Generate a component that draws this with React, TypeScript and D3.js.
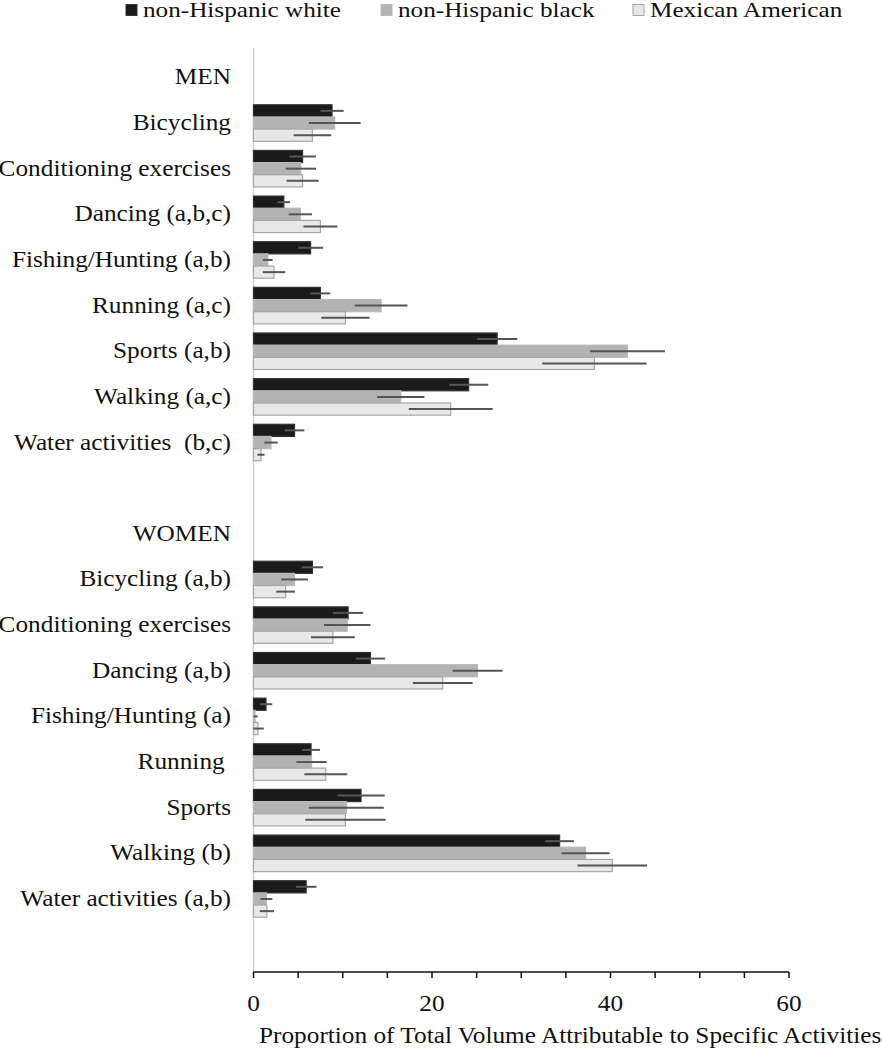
import React from 'react';
import * as d3 from 'd3';

// categories (labels as printed, including the significance letters)
const menCategories = [
  'Bicycling',
  'Conditioning exercises',
  'Dancing (a,b,c)',
  'Fishing/Hunting (a,b)',
  'Running (a,c)',
  'Sports (a,b)',
  'Walking (a,c)',
  'Water activities  (b,c)',
];
const womenCategories = [
  'Bicycling (a,b)',
  'Conditioning exercises',
  'Dancing (a,b)',
  'Fishing/Hunting (a)',
  'Running ',
  'Sports',
  'Walking (b)',
  'Water activities (a,b)',
];

const seriesNames = ['non-Hispanic white', 'non-Hispanic black', 'Mexican American'];

// proportion values, men
const menWhite = [8.8, 5.5, 3.4, 6.4, 7.5, 27.3, 24.1, 4.6];
const menBlack = [9.1, 5.3, 5.25, 1.6, 14.3, 41.9, 16.5, 1.96];
const menMexican = [6.6, 5.5, 7.5, 2.3, 10.3, 38.2, 22.1, 0.84];
// error half-widths, men
const menWhiteErr = [1.3, 1.5, 0.7, 1.4, 1.1, 2.25, 2.2, 1.1];
const menBlackErr = [2.9, 1.7, 1.3, 0.55, 2.95, 4.2, 2.65, 0.75];
const menMexicanErr = [2.1, 1.8, 1.9, 1.25, 2.7, 5.85, 4.7, 0.4];

// proportion values, women
const womenWhite = [6.6, 10.6, 13.1, 1.4, 6.45, 12.05, 34.3, 5.9];
const womenBlack = [4.6, 10.5, 25.1, 0.17, 6.5, 10.4, 37.2, 1.44];
const womenMexican = [3.6, 8.9, 21.2, 0.5, 8.1, 10.3, 40.2, 1.5];
// error half-widths, women
const womenWhiteErr = [1.2, 1.7, 1.65, 0.7, 1.0, 2.65, 1.6, 1.15];
const womenBlackErr = [1.5, 2.6, 2.8, 0.3, 1.7, 4.2, 2.7, 0.67];
const womenMexicanErr = [1.05, 2.45, 3.35, 0.65, 2.4, 4.5, 3.9, 0.8];

const xTicks = [0, 20, 40, 60];

const W = 882;
const H = 1050;
const FONT = '"Liberation Serif", "Times New Roman", serif';

const fills = ['#1a1a1a', '#b3b3b3', '#e8e8e8'];
const strokes = ['#333333', '#b8b8b8', '#a6a6a6'];

type Row = { key: string; label: string; header?: boolean; values?: number[]; errs?: number[] };

const rows: Row[] = [
  { key: 'men', label: 'MEN', header: true },
  ...menCategories.map((c, i) => ({
    key: 'm' + i,
    label: c,
    values: [menWhite[i], menBlack[i], menMexican[i]],
    errs: [menWhiteErr[i], menBlackErr[i], menMexicanErr[i]],
  })),
  { key: 'gap1', label: '' },
  { key: 'women', label: 'WOMEN', header: true },
  ...womenCategories.map((c, i) => ({
    key: 'w' + i,
    label: c,
    values: [womenWhite[i], womenBlack[i], womenMexican[i]],
    errs: [womenWhiteErr[i], womenBlackErr[i], womenMexicanErr[i]],
  })),
  { key: 'gap2', label: '' },
];

// the source figure is stretched horizontally, so text gets a little x-scale
const Label: React.FC<{
  x: number;
  y: number;
  anchor?: string;
  size?: number;
  sx?: number;
  children: React.ReactNode;
}> = ({ x, y, anchor = 'end', size = 23, sx = 1.1, children }) => (
  <text
    transform={`translate(${x},${y}) scale(${sx},1)`}
    textAnchor={anchor}
    fontFamily={FONT}
    fontSize={size}
    fill="#111"
    style={{ whiteSpace: 'pre' }}
  >
    {children}
  </text>
);

export default function App() {
  const x = d3.scaleLinear().domain([0, 60]).range([253.5, 789]);
  const y = d3
    .scaleBand<string>()
    .domain(rows.map(r => r.key))
    .range([50, 972])
    .paddingInner(0.2)
    .paddingOuter(0.2);
  const sub = d3.scaleBand<string>().domain(seriesNames).range([0, y.bandwidth()]);
  const minorTicks = d3.range(0, 61, 5);

  const legendSquares = [126, 381, 633];
  const legendText = [143, 398, 650];

  return (
    <svg
      width={W}
      height={H}
      style={{ position: 'absolute', left: 0, top: 0, background: '#fff' }}
    >
      {/* legend */}
      {seriesNames.map((s, i) => (
        <g key={s}>
          <rect x={legendSquares[i]} y={4.5} width={11} height={11} fill={fills[i]} stroke={strokes[i]} strokeWidth={1} />
          <Label x={legendText[i]} y={17} anchor="start" size={20} sx={1.26}>{s}</Label>
        </g>
      ))}

      {/* category axis line */}
      <line x1={x(0)} x2={x(0)} y1={48} y2={972} stroke="#cfcfcf" strokeWidth={1.5} />

      {/* bars */}
      {rows.map(r => {
        const y0 = y(r.key)!;
        if (!r.values) return null;
        return (
          <g key={r.key}>
            {r.values.map((v, i) => (
              <rect
                key={i}
                x={x(0)}
                y={y0 + sub(seriesNames[i])!}
                width={x(v) - x(0)}
                height={sub.bandwidth()}
                fill={fills[i]}
                stroke={strokes[i]}
                strokeWidth={1.2}
              />
            ))}
            {r.values.map((v, i) => {
              const cy = y0 + sub(seriesNames[i])! + sub.bandwidth() / 2;
              return (
                <line
                  key={'e' + i}
                  x1={x(Math.max(0, v - r.errs![i]))}
                  x2={x(v + r.errs![i])}
                  y1={cy}
                  y2={cy}
                  stroke="#555"
                  strokeWidth={2}
                />
              );
            })}
          </g>
        );
      })}

      {/* row labels */}
      {rows.map(r =>
        r.label ? (
          <Label key={'l' + r.key} x={231} y={y(r.key)! + y.bandwidth() / 2 + 7}>
            {r.label}
          </Label>
        ) : null
      )}

      {/* value axis */}
      <line x1={x(0)} x2={x(60)} y1={972} y2={972} stroke="#111" strokeWidth={1.5} />
      {minorTicks.map(t => (
        <line key={t} x1={x(t)} x2={x(t)} y1={972} y2={978} stroke="#111" strokeWidth={1.5} />
      ))}
      {xTicks.map(t => (
        <Label key={'t' + t} x={x(t)} y={1011} anchor="middle">{t}</Label>
      ))}
      <Label x={259} y={1043} anchor="start">Proportion of Total Volume Attributable to Specific Activities</Label>
    </svg>
  );
}
